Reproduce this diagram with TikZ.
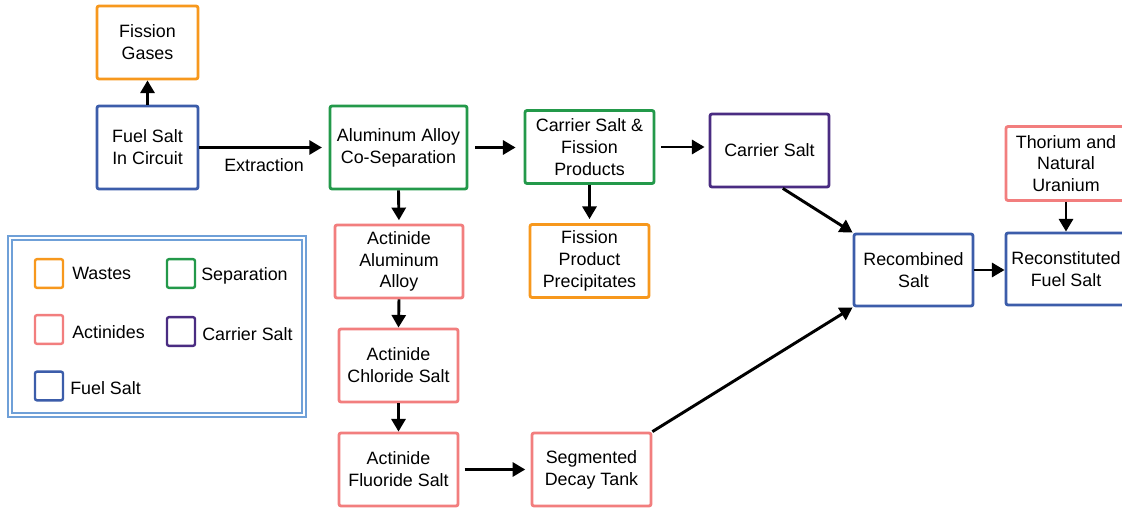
\documentclass[tikz,border=0pt]{standalone}
\usepackage{fontspec}
\setmainfont{Liberation Sans}
\usetikzlibrary{arrows.meta}
\definecolor{corange}{HTML}{F7981D}
\definecolor{cblue}{HTML}{3C5DAA}
\definecolor{cgreen}{HTML}{23994A}
\definecolor{cpink}{HTML}{F27E7E}
\definecolor{cpurple}{HTML}{4A2C82}
\definecolor{clegend}{HTML}{6FA0D8}
\tikzset{
  box/.style={draw, line width=2.1pt, rounded corners=1.5pt, align=center, inner sep=0pt,
    font=\fontsize{13.4}{16.4}\selectfont, text=black},
  arr/.style={-{Triangle[length=9.5pt,width=10.5pt]}, line width=2.2pt, black},
  lsq/.style={draw, line width=1.8pt, rounded corners=1.5pt, minimum width=21pt, minimum height=21.5pt, inner sep=0pt},
  ltxt/.style={anchor=west, inner sep=0pt, font=\fontsize{13.4}{16.4}\selectfont},
}
\begin{document}
\begin{tikzpicture}[x=0.75pt,y=-0.75pt]
\useasboundingbox (0,0) rectangle (1122,510);
\clip (0,0) rectangle (1122,510);
\fill[white] (0,0) rectangle (1122,510);

% main boxes
\node[box, draw=corange, minimum width=75.75pt, minimum height=54.75pt] (fg) at (147.5,42.5) {Fission\\Gases};
\node[box, draw=cblue, minimum width=75.75pt, minimum height=62.25pt] (fs) at (147.5,147.5) {Fuel Salt\\In Circuit};
\node[box, draw=cgreen, minimum width=102.75pt, minimum height=62.25pt] (al) at (398.5,147.5) {Aluminum Alloy\\Co-Separation};
\node[box, draw=cgreen, minimum width=96.75pt, minimum height=54.75pt] (cf) at (589.5,147) {Carrier Salt \&\\Fission\\Products};
\node[box, draw=cpurple, minimum width=89.25pt, minimum height=54.75pt] (cs) at (769.5,150.5) {Carrier Salt};
\node[box, draw=corange, minimum width=89.25pt, minimum height=54.75pt] (fp) at (589.5,261) {Fission\\Product\\Precipitates};
\node[box, draw=cpink, minimum width=96pt, minimum height=54.75pt] (aa) at (399,261.5) {Actinide\\Aluminum\\Alloy};
\node[box, draw=cpink, minimum width=89.25pt, minimum height=54.75pt] (ac) at (398.5,365.5) {Actinide\\Chloride Salt};
\node[box, draw=cpink, minimum width=89.25pt, minimum height=54.75pt] (af) at (398.5,469.5) {Actinide\\Fluoride Salt};
\node[box, draw=cpink, minimum width=89.25pt, minimum height=54.75pt] (sd) at (591.5,469.5) {Segmented\\Decay Tank};
\node[box, draw=cblue, minimum width=89.25pt, minimum height=54pt] (rs) at (913.5,270) {Recombined\\Salt};
\node[box, draw=cblue, minimum width=90pt, minimum height=54pt] (rf) at (1066,269) {Reconstituted\\Fuel Salt};
\node[box, draw=cpink, minimum width=90pt, minimum height=55.5pt] (th) at (1066,163.5) {Thorium and\\Natural\\Uranium};

% connectors
\draw[arr] (fs.north) -- (fg.south);
\draw[arr, shorten >=5pt] (fs.east) -- node[below=7pt, inner sep=0pt, font=\fontsize{13.4}{16.4}\selectfont] (ex) {Extraction} (al.west);
\draw[arr, shorten <=5pt, shorten >=6pt] (al.east) -- (al.east -| cf.west);
\draw[arr, shorten <=4.5pt, shorten >=3pt] (cf.east) -- (cf.east -| cs.west);
\draw[arr, shorten >=3pt] (cf.south) -- (fp.north);
\draw[arr, shorten >=2.5pt] (al.south) -- (aa.north);
\draw[arr] (aa.south) -- (ac.north);
\draw[arr] (ac.south) -- (af.north);
\draw[arr, shorten <=4pt, shorten >=4pt] (af.east) -- (af.east -| sd.west);
\draw[arr] ([xshift=10pt]cs.south) -- (rs.north west);
\draw[arr] (sd.north east) -- (rs.south west);
\draw[arr] (rs.east) -- (rs.east -| rf.west);
\draw[arr] (th.south) -- (rf.north);

% legend
\draw[clegend, line width=1.1pt] (8,236) rectangle (306,417);
\draw[clegend, line width=1.1pt] (12,240) rectangle (302,413);
\node[lsq, draw=corange] (lw) at (49,273.5) {};
\node[lsq, draw=cgreen] (lsp) at (181,273.5) {};
\node[lsq, draw=cpink] (la) at (49,329.5) {};
\node[lsq, draw=cpurple] (lc) at (181,331.5) {};
\node[lsq, draw=cblue] (lf) at (49,386) {};
\node[ltxt] (tw) at (72,273) {Wastes};
\node[ltxt] (tsp) at (201,276) {Separation};
\node[ltxt] (ta) at (72,332) {Actinides};
\node[ltxt] (tc) at (202,334) {Carrier Salt};
\node[ltxt] (tf) at (70,388) {Fuel Salt};
\end{tikzpicture}
\end{document}
